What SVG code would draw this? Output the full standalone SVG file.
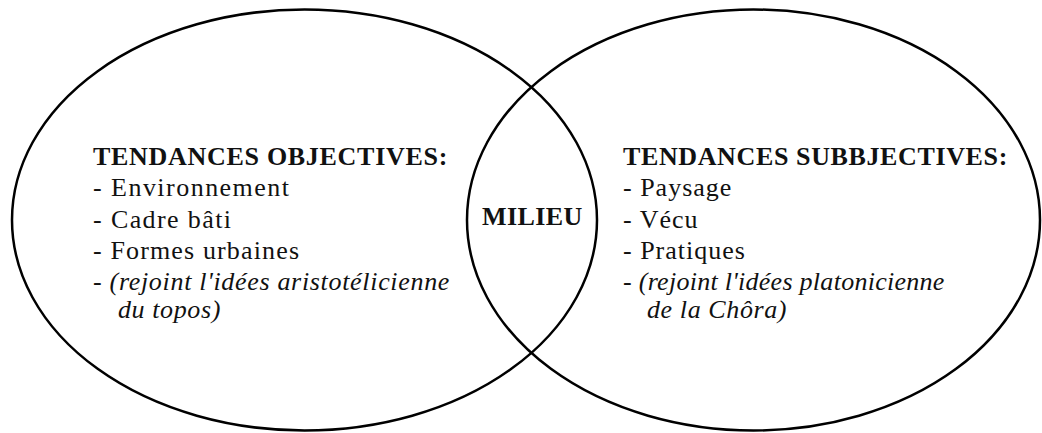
<svg xmlns="http://www.w3.org/2000/svg" width="1042" height="433" viewBox="0 0 1042 433">
<style>
.ring{fill:none;stroke:#000;stroke-width:2.5}
text{font-family:"Liberation Serif","DejaVu Serif",serif;font-size:26px;fill:#111;letter-spacing:1px}
.t{font-weight:bold;letter-spacing:0.7px}
.i{font-style:italic;letter-spacing:0.6px}
</style>
<rect width="1042" height="433" fill="#fff"/>
<g id="connectors"></g>
<g id="objectives">
<ellipse class="ring" cx="304.5" cy="220" rx="292.5" ry="210.5"/>
<text class="t" x="93" y="165" textLength="355">TENDANCES OBJECTIVES:</text>
<text x="93" y="196" textLength="197">- Environnement</text>
<text x="93" y="228" textLength="139">- Cadre bâti</text>
<text x="93" y="259" textLength="207">- Formes urbaines</text>
<text class="i" x="93" y="290" textLength="357">- (rejoint l'idées aristotélicienne</text>
<text class="i" x="118" y="318">du topos)</text>
</g>
<g id="subjectives">
<ellipse class="ring" cx="753.5" cy="220" rx="286.5" ry="210.5"/>
<text class="t" x="623" y="165" textLength="385">TENDANCES SUBBJECTIVES:</text>
<text x="623" y="196">- Paysage</text>
<text x="623" y="228">- Vécu</text>
<text x="623" y="259">- Pratiques</text>
<text class="i" x="623" y="290" textLength="322">- (rejoint l'idées platonicienne</text>
<text class="i" x="647" y="318">de la Chôra)</text>
</g>
<g id="milieu">
<text class="t" x="482" y="225" textLength="101">MILIEU</text>
</g>
</svg>
